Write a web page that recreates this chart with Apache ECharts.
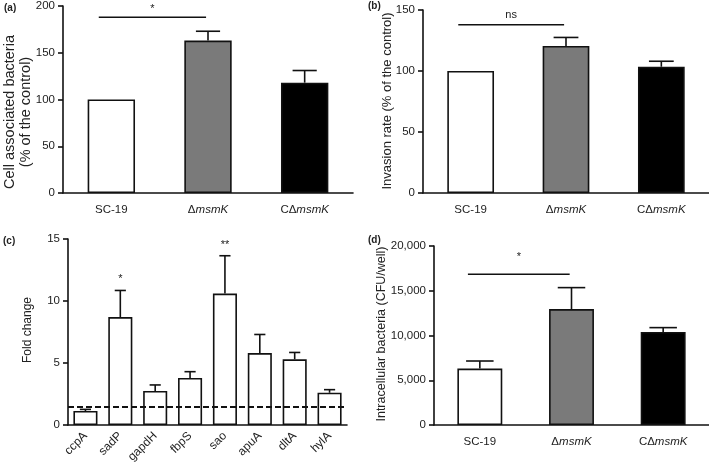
<!DOCTYPE html>
<html>
<head>
<meta charset="utf-8">
<script src="https://cdn.jsdelivr.net/npm/echarts@6/dist/echarts.min.js"></script>
<style>
html, body { margin: 0; padding: 0; background: #fff; }
#main { width: 709px; height: 466px; }
</style>
</head>
<body>
<div id="main"></div>
<script>
// groups / genes
var groups = ['SC-19', 'ΔmsmK', 'CΔmsmK'];
var genes = ['ccpA', 'sadP', 'gapdH', 'fbpS', 'sao', 'apuA', 'dltA', 'hylA'];
var groupColors = ['#ffffff', '#7a7a7a', '#000000'];

// (a) cell associated bacteria, % of control
var adhesionMean = [100, 163, 118];
var adhesionErr = [0, 10, 13];
// (b) invasion rate, % of control
var invasionMean = [100, 120.5, 103.5];
var invasionErr = [0, 7, 4.5];
// (c) fold change
var foldMean = [1.13, 8.7, 2.75, 3.8, 10.6, 5.8, 5.3, 2.6];
var foldErr = [0.13, 2.15, 0.48, 0.5, 3.05, 1.5, 0.55, 0.25];
var foldCutoff = 1.5;
// (d) intracellular bacteria, CFU/well
var cfuMean = [6300, 12950, 10400];
var cfuErr = [850, 2400, 480];

// significance: [from, to, line y, text y]
var sigA = [[0, 1, 188, 197]], sigAText = ['*'];
var sigB = [[0, 1, 138, 146]], sigBText = ['ns'];
var sigD = [[0, 1, 16850, 18800]], sigDText = ['*'];
var starC = [[1, 11.8], [4, 14.5]], starCText = ['*', '**'];

// axis titles
var yTitles = ['Cell associated bacteria\n(% of the control)', 'Invasion rate (% of the control)', 'Fold change', 'Intracellular bacteria (CFU/well)'];

var FONT = 'Liberation Sans, Arial, sans-serif';
var INK = '#222';

(function() {
	var chart = echarts.init(document.getElementById('main'));

	function errRender(capRatio) {
		return function(params, api) {
			var i = api.value(0), m = api.value(1), e = api.value(2);
			if (!e) return;
			var base = api.coord([i, m]);
			var top = api.coord([i, m + e]);
			var half = api.size([1, 0])[0] * capRatio / 2;
			var st = { stroke: '#111', lineWidth: 1.6 };
			return {
				type: 'group',
				children: [
					{ type: 'line', shape: { x1: base[0], y1: base[1], x2: top[0], y2: top[1] }, style: st },
					{ type: 'line', shape: { x1: top[0] - half, y1: top[1], x2: top[0] + half, y2: top[1] }, style: st }
				]
			};
		};
	}

	function sigRender(texts) {
		return function(params, api) {
			var a = api.coord([api.value(0), api.value(2)]);
			var b = api.coord([api.value(1), api.value(2)]);
			var bw = api.size([1, 0])[0];
			var x1 = a[0] - 0.13 * bw, x2 = b[0] - 0.02 * bw;
			var ty = api.coord([api.value(0), api.value(3)])[1];
			return {
				type: 'group',
				children: [
					{ type: 'line', shape: { x1: x1, y1: a[1], x2: x2, y2: a[1] }, style: { stroke: '#111', lineWidth: 1.5 } },
					{ type: 'text', style: { text: texts[params.dataIndex], x: (x1 + x2) / 2, y: ty, align: 'center', verticalAlign: 'middle', fill: INK, font: '11px ' + FONT } }
				]
			};
		};
	}

	function starRender(texts) {
		return function(params, api) {
			var p = api.coord([api.value(0), api.value(1)]);
			return { type: 'text', style: { text: texts[params.dataIndex], x: p[0], y: p[1], align: 'center', verticalAlign: 'middle', fill: INK, font: '11px ' + FONT } };
		};
	}

	function groupLabel(v) {
		return v.indexOf('msmK') < 0 ? v : v.replace('msmK', '{i|msmK}');
	}

	function xCat(idx, data, extra) {
		var ax = {
			type: 'category',
			gridIndex: idx,
			data: data,
			axisLine: { lineStyle: { color: '#111', width: 1.6 } },
			axisTick: { alignWithLabel: true, length: 5, lineStyle: { color: '#111', width: 1.6 } },
			axisLabel: {
				color: INK, fontFamily: FONT, fontSize: 11.5, margin: 11,
				formatter: groupLabel,
				rich: { i: { fontStyle: 'italic', color: INK, fontFamily: FONT, fontSize: 11.5 } }
			}
		};
		for (var k in extra) ax[k] = extra[k];
		return ax;
	}

	function yVal(idx, max, interval) {
		return {
			type: 'value',
			gridIndex: idx,
			min: 0, max: max, interval: interval,
			splitLine: { show: false },
			axisLine: { show: true, lineStyle: { color: '#111', width: 1.6 } },
			axisTick: { show: true, length: 5, lineStyle: { color: '#111', width: 1.6 } },
			axisLabel: { color: INK, fontFamily: FONT, fontSize: 11.5, margin: 8 }
		};
	}

	// rotated y title, centred at (x, y)
	function yTitle(text, x, y, size) {
		return {
			type: 'text',
			x: x, y: y,
			rotation: Math.PI / 2,
			style: { text: text, align: 'center', verticalAlign: 'middle', fill: INK, fontFamily: FONT, fontSize: size, lineHeight: size + 1 }
		};
	}

	function groupBars(values, xi) {
		return {
			type: 'bar',
			xAxisIndex: xi, yAxisIndex: xi,
			barWidth: '49%',
			data: values.map(function(v, i) {
				return { value: v, itemStyle: { color: groupColors[i] } };
			}),
			itemStyle: { borderColor: '#111', borderWidth: 1.6 },
			z: 2
		};
	}

	function errSeries(mean, err, xi, cap) {
		return {
			type: 'custom',
			xAxisIndex: xi, yAxisIndex: xi,
			renderItem: errRender(cap),
			data: mean.map(function(m, i) { return [i, m, err[i]]; }),
			z: 3
		};
	}

	function sigSeries(rows, texts, xi) {
		return {
			type: 'custom',
			xAxisIndex: xi, yAxisIndex: xi,
			renderItem: sigRender(texts),
			data: rows,
			z: 3
		};
	}

	var option = {
		animation: false,
		backgroundColor: '#fff',
		grid: [
			{ left: 63, top: 4, width: 290, height: 189 },
			{ left: 423, top: 10, width: 286, height: 183 },
			{ left: 68, top: 239, width: 279, height: 186 },
			{ left: 434, top: 246, width: 275, height: 179 }
		],
		xAxis: [
			xCat(0, groups, {}),
			xCat(1, groups, {}),
			xCat(2, genes, { axisLabel: { color: INK, fontFamily: FONT, fontSize: 12, rotate: 45, margin: 9 } }),
			xCat(3, groups, {})
		],
		yAxis: [
			yVal(0, 200, 50),
			yVal(1, 150, 50),
			yVal(2, 15, 5),
			yVal(3, 20000, 5000)
		],
		graphic: [
			{ type: 'text', left: 4, top: 3, style: { text: '(a)', font: 'bold 10px ' + FONT, fill: INK } },
			{ type: 'text', left: 368, top: 1, style: { text: '(b)', font: 'bold 10px ' + FONT, fill: INK } },
			{ type: 'text', left: 3, top: 236, style: { text: '(c)', font: 'bold 10px ' + FONT, fill: INK } },
			{ type: 'text', left: 368, top: 235, style: { text: '(d)', font: 'bold 10px ' + FONT, fill: INK } },
			yTitle(yTitles[0], 18, 112, 14.5),
			yTitle(yTitles[1], 387, 101, 13),
			yTitle(yTitles[2], 28, 330, 12),
			yTitle(yTitles[3], 382, 334, 12.5)
		],
		series: [
			groupBars(adhesionMean, 0),
			errSeries(adhesionMean, adhesionErr, 0, 0.25),
			sigSeries(sigA, sigAText, 0),

			groupBars(invasionMean, 1),
			errSeries(invasionMean, invasionErr, 1, 0.26),
			sigSeries(sigB, sigBText, 1),

			{
				type: 'bar',
				xAxisIndex: 2, yAxisIndex: 2,
				barWidth: '69%',
				data: foldMean,
				itemStyle: { color: '#fff', borderColor: '#111', borderWidth: 1.6 },
				markLine: {
					silent: true,
					symbol: 'none',
					label: { show: false },
					lineStyle: { type: [6, 3], color: '#111', width: 2 },
					data: [{ yAxis: foldCutoff }]
				},
				z: 2
			},
			errSeries(foldMean, foldErr, 2, 0.32),
			{
				type: 'custom',
				xAxisIndex: 2, yAxisIndex: 2,
				renderItem: starRender(starCText),
				data: starC,
				z: 3
			},

			groupBars(cfuMean, 3),
			errSeries(cfuMean, cfuErr, 3, 0.3),
			sigSeries(sigD, sigDText, 3)
		]
	};

	option.yAxis[3].axisLabel.formatter = function(v) {
		return v.toLocaleString('en-US');
	};

	chart.setOption(option);
})();
</script>
</body>
</html>
